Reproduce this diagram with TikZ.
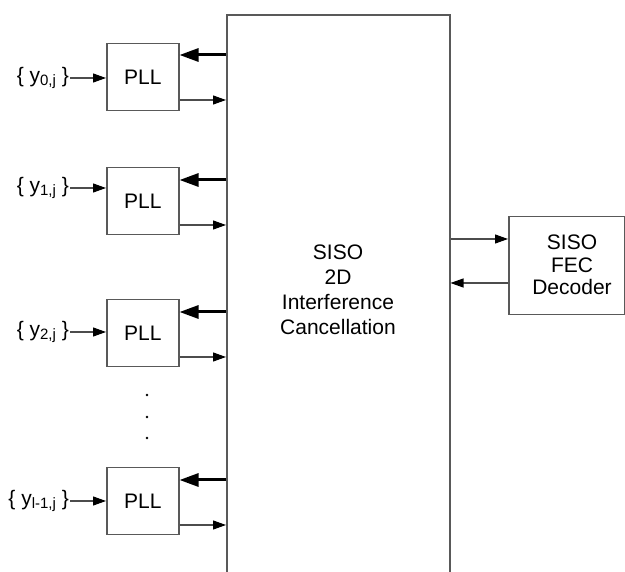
\documentclass[tikz,border=0pt]{standalone}
\usepackage{fontspec}
\setmainfont{Liberation Sans}
\usetikzlibrary{arrows.meta}
\tikzset{
  box/.style={draw=black!65, line width=1.5pt, inner sep=0pt},
  pll/.style={box, minimum width=72pt, minimum height=67pt, font=\fontsize{21}{24}\selectfont},
  thinarr/.style={draw=black!70, line width=1.1pt, -{Triangle[length=13pt,width=9pt,color=black]}},
  thickarr/.style={draw=black, line width=3pt, -{Triangle[length=19pt,width=13pt]}},
  lbl/.style={inner sep=0pt, anchor=east, font=\fontsize{21}{24}\selectfont},
  txt/.style={align=center, inner sep=0pt},
}
\newcommand{\sbs}[1]{\raisebox{-0.3ex}{\fontsize{15}{15}\selectfont #1}}
\begin{document}
\begin{tikzpicture}[x=1pt,y=-1pt]
\useasboundingbox (0,0) rectangle (625,572);
\clip (0,0) rectangle (625,572);
% big box
\node[box, anchor=north west, minimum width=223pt, minimum height=590pt] (big) at (226,14.5) {};
\node[txt, font=\fontsize{21}{25}\selectfont] (bigtxt) at (338,290) {SISO\\2D\\Interference\\Cancellation};
% decoder
\node[box, anchor=north west, minimum width=116pt, minimum height=98pt] (dec) at (508,216) {};
\node[txt, font=\fontsize{21}{22.5}\selectfont] (dectxt) at (572,265) {SISO\\FEC\\Decoder};
% PLL boxes
\node[pll, anchor=north west] (p1) at (106,43) {PLL};
\node[pll, anchor=north west] (p2) at (106,167) {PLL};
\node[pll, anchor=north west] (p3) at (106,299) {PLL};
\node[pll, anchor=north west] (p4) at (106,467) {PLL};
% input labels
\node[lbl] (l1) at (69,78) {\{ y\sbs{0,j} \}};
\node[lbl] (l2) at (69,188) {\{ y\sbs{1,j} \}};
\node[lbl] (l3) at (69,332) {\{ y\sbs{2,j} \}};
\node[lbl] (l4) at (69,501) {\{ y\sbs{l-1,j} \}};
\foreach \i in {1,2,3,4}{
  \draw[thinarr] ([xshift=1pt]l\i.east) -- (p\i.west |- l\i.east);
}
% thick feedback arrows
\draw[thickarr] (big.west |- 0,55) -- (p1.east |- 0,55);
\draw[thickarr] (big.west |- 0,180) -- (p2.east |- 0,180);
\draw[thickarr] (big.west |- 0,312) -- (p3.east |- 0,312);
\draw[thickarr] (big.west |- 0,480) -- (p4.east |- 0,480);
% thin output arrows
\draw[thinarr] (p1.east |- 0,100) -- (big.west |- 0,100);
\draw[thinarr] (p2.east |- 0,225) -- (big.west |- 0,225);
\draw[thinarr] (p3.east |- 0,357) -- (big.west |- 0,357);
\draw[thinarr] (p4.east |- 0,525) -- (big.west |- 0,525);
% decoder arrows
\draw[thinarr] (big.east |- 0,239) -- (dec.west |- 0,239);
\draw[thinarr] (dec.west |- 0,283) -- (big.east |- 0,283);
% dots
\fill (147,395) circle (1.4);
\fill (147,417) circle (1.4);
\fill (147,438) circle (1.4);
\end{tikzpicture}
\end{document}
